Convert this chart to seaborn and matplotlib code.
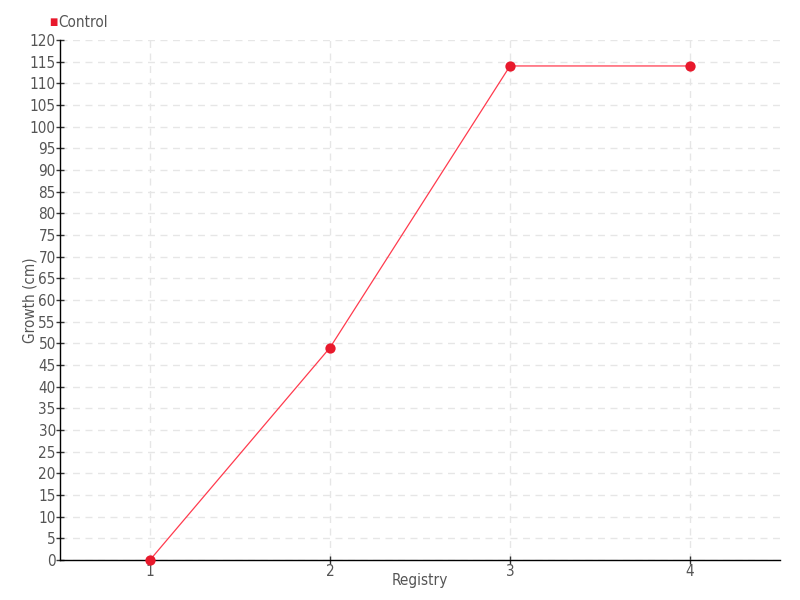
import matplotlib
matplotlib.use("Agg")
import matplotlib.pyplot as plt
import matplotlib.ticker as mticker
import pandas as pd
import seaborn as sns

# data
registry = ["1", "2", "3", "4"]
growth = [0, 49, 114, 114]
series_name = "Control"

df = pd.DataFrame({"registry": registry, "growth": growth})

sns.set_theme(style="white")
plt.rcParams["font.family"] = ["DejaVu Sans"]
plt.rcParams["font.stretch"] = "condensed"

fig = plt.figure(figsize=(8, 6), dpi=100)
ax = fig.add_axes([0.075, 0.0667, 0.9, 0.8667])

sns.lineplot(data=df, x="registry", y="growth", color="#ff3b4e", linewidth=0.9, ax=ax)
sns.scatterplot(data=df, x="registry", y="growth", color="#e8192c", s=55,
                edgecolor="#e8192c", linewidth=0, zorder=5, ax=ax, clip_on=False)

ax.set_xlim(-0.5, 3.5)
ax.set_ylim(0, 120)
ax.yaxis.set_major_locator(mticker.MultipleLocator(5))

ax.grid(True, color="#e6e6e6", linestyle=(0, (5, 4)), linewidth=1)
ax.set_axisbelow(True)
for s in ["top", "right"]:
    ax.spines[s].set_visible(False)
for s in ["left", "bottom"]:
    ax.spines[s].set_color("black")
    ax.spines[s].set_linewidth(1)

ax.tick_params(axis="y", which="major", left=True, length=6, width=1, color="#333333",
               direction="inout", labelsize=11, labelcolor="#555555", pad=0)
ax.tick_params(axis="x", which="major", bottom=True, length=6, width=1, color="#333333",
               direction="inout", labelsize=11, labelcolor="#555555", pad=0)

ax.set_xlabel("Registry", fontsize=11, color="#555555")
ax.set_ylabel("Growth (cm)", fontsize=11, color="#555555")
ax.xaxis.set_label_coords(0.5, -0.04)
ax.yaxis.set_label_coords(-0.042, 0.5)
ax.xaxis.label.set_va("center")
ax.yaxis.label.set_va("center")

# legend
fig.text(0.0665, 0.9633, "\u25a0", color="#e8192c", fontsize=7, ha="center", va="center")
fig.text(0.073, 0.9633, series_name, color="#555555", fontsize=11, ha="left", va="center")

fig.savefig("out.png", dpi=100)
